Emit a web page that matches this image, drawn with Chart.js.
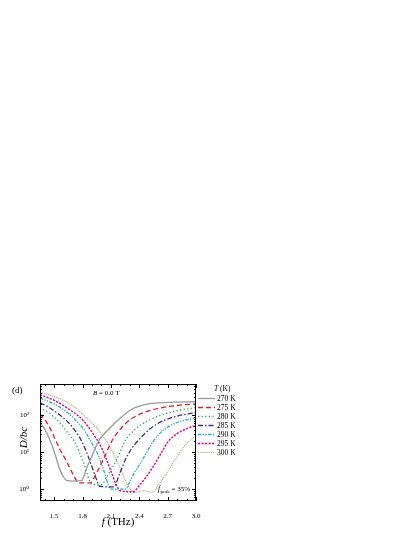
<!DOCTYPE html>
<html>
<head>
<meta charset="utf-8">
<script src="https://cdn.jsdelivr.net/npm/chart.js@4.4.0/dist/chart.umd.min.js"></script>
<style>
html,body{margin:0;padding:0;background:#fff;}
canvas{display:block;}
</style>
</head>
<body>
<canvas id="c" width="415" height="537"></canvas>
<script>
// ---- data ----
const seriesLabels = ['270 K','275 K','280 K','285 K','290 K','295 K','300 K'];
const xTickValues = [1.5, 1.8, 2.1, 2.4, 2.7, 3.0];
const yTickValues = [1, 10, 100];
const yTickLabels = ['10\u2070', '10\u00B9', '10\u00B2'];

const f270 = [1.35,1.40,1.456,1.50,1.56,1.60,1.63,1.70,1.79,1.84,1.90,1.97,2.05,2.10,2.20,2.33,2.50,2.70,3.00];
const d270 = [63,41.7,20.9,10.5,3.4,2.1,1.74,1.66,1.70,3.55,7.94,20.0,35.5,47.9,83.2,148,200,219,229];

const f275 = [1.35,1.40,1.45,1.51,1.56,1.62,1.67,1.72,1.76,1.88,1.95,2.02,2.11,2.21,2.30,2.44,2.60,2.80,3.00];
const d275 = [107,75.9,47.9,22.4,12.0,6.31,3.55,2.0,1.48,1.48,2.82,6.31,20.0,44.7,74.1,115,151,182,200];

const f280 = [1.35,1.45,1.55,1.65,1.71,1.77,1.82,1.87,1.90,2.00,2.05,2.10,2.16,2.25,2.35,2.44,2.60,2.80,3.00];
const d280 = [158,112,66.1,31.6,20.0,9.55,4.47,1.78,1.35,1.32,2.0,3.31,6.31,20.0,39.8,58.9,93.3,132,158];

const f285 = [1.35,1.45,1.55,1.65,1.72,1.79,1.85,1.90,1.95,1.98,2.13,2.19,2.25,2.32,2.39,2.50,2.60,2.80,3.00];
const d285 = [214,158,105,63.1,38.0,20.0,8.91,3.98,1.78,1.20,1.15,2.51,6.03,12.6,20.9,39.8,60.3,93.3,117];

const f290 = [1.35,1.50,1.65,1.75,1.83,1.88,1.95,2.00,2.05,2.08,2.12,2.25,2.30,2.35,2.41,2.48,2.55,2.65,2.80,3.00];
const d290 = [288,200,112,63.1,35.5,20.9,10.0,4.9,2.0,1.12,1.0,1.0,1.58,2.82,4.9,10.0,20.0,38.0,63.1,85.1];

const f295 = [1.35,1.50,1.65,1.77,1.85,1.91,1.985,2.05,2.11,2.16,2.20,2.34,2.40,2.47,2.55,2.63,2.71,2.80,2.90,3.00];
const d295 = [355,251,148,89.1,52.5,31.6,15.8,6.61,2.63,1.26,0.91,0.85,1.26,2.09,4.17,9.33,20.0,31.6,42.7,52.5];

const f300 = [1.35,1.50,1.63,1.75,1.85,1.95,2.00,2.06,2.14,2.20,2.25,2.30,2.355,2.40,2.44,2.48,2.53,2.57,2.60,2.67,2.73,2.80,2.87,2.93,3.00];
const d300 = [417,316,224,141,79.4,44.7,30.2,18.6,7.59,3.55,1.78,1.05,0.79,0.85,0.93,0.87,0.83,0.95,1.26,2.24,3.98,7.59,13.8,20.0,28.2];

// ---- styles ----
const serif = "'Liberation Serif','DejaVu Serif',serif";
const colors = ['#9a9a9a','#ed1c24','#1fae6a','#2e3192','#29abe2','#ec008c','#c3a77a'];
const dashes = [[], [5,3], [1.2,2.4], [5,2,1.5,2], [3.5,1.3,1.3,1.3,1.3,1.3], [2.2,1.3], [1.2,0.9]];
const widths = [1.3,1.3,1.4,1.3,1.3,1.4,1.1];

const fs = [f270,f275,f280,f285,f290,f295,f300];
const ds = [d270,d275,d280,d285,d290,d295,d300];

const datasets = seriesLabels.map((lab, i) => ({
  label: lab,
  data: fs[i].map((x, j) => ({x: x, y: ds[i][j]})),
  borderColor: colors[i],
  borderDash: dashes[i],
  borderWidth: widths[i],
  pointRadius: 0,
  fill: false,
  cubicInterpolationMode: 'monotone'
}));

const decorPlugin = {
  id: 'decor',
  afterDraw(chart) {
    const ctx = chart.ctx;
    const a = chart.chartArea;
    const xs = chart.scales.x, ys = chart.scales.y;
    ctx.save();
    // frame
    ctx.strokeStyle = '#000';
    ctx.lineWidth = 1;
    ctx.setLineDash([]);
    ctx.strokeRect(a.left + 0.5, a.top + 0.5, a.right - a.left - 1, a.bottom - a.top - 1);
    // x ticks (inward, bottom and top)
    ctx.beginPath();
    for (let k = 14; k <= 30; k++) {
      const v = k / 10;
      const px = Math.round(xs.getPixelForValue(v)) + 0.5;
      const major = xTickValues.some(t => Math.abs(t - v) < 1e-6);
      const L = major ? 4 : 2;
      ctx.moveTo(px, a.bottom); ctx.lineTo(px, a.bottom - L);
      ctx.moveTo(px, a.top); ctx.lineTo(px, a.top + L);
    }
    // y ticks (log, inward, left and right)
    for (let e = -1; e <= 2; e++) {
      for (let m = 1; m <= 9; m++) {
        const v = m * Math.pow(10, e);
        if (v < ys.min || v > ys.max) continue;
        const py = Math.round(ys.getPixelForValue(v)) + 0.5;
        const L = m === 1 ? 4 : 2;
        ctx.moveTo(a.left, py); ctx.lineTo(a.left + L, py);
        ctx.moveTo(a.right, py); ctx.lineTo(a.right - L, py);
      }
    }
    ctx.stroke();

    ctx.fillStyle = '#000';
    ctx.textBaseline = 'alphabetic';
    // (d)
    ctx.font = '9px ' + serif;
    ctx.textAlign = 'left';
    ctx.fillText('(d)', 12, 393);
    // B = 0.0 T
    ctx.font = 'italic 7px ' + serif;
    let x0 = 93;
    ctx.fillText('B', x0, 395);
    x0 += ctx.measureText('B').width;
    ctx.font = '7px ' + serif;
    ctx.fillText(' = 0.0 T', x0, 395);
    // f_peak = 35%
    ctx.font = 'italic 7.5px ' + serif;
    x0 = 158;
    ctx.fillText('f', x0, 491);
    x0 += ctx.measureText('f').width + 0.3;
    ctx.font = '5px ' + serif;
    ctx.fillText('peak', x0, 493);
    x0 += ctx.measureText('peak').width;
    ctx.font = '7px ' + serif;
    ctx.fillText(' = 35%', x0, 491);
    // x title
    ctx.font = 'italic 11px ' + serif;
    const t1 = 'f', t2 = ' (THz)';
    const w1 = ctx.measureText(t1).width;
    ctx.font = '11px ' + serif;
    const w2 = ctx.measureText(t2).width;
    let tx = (a.left + a.right) / 2 - (w1 + w2) / 2;
    ctx.font = 'italic 11px ' + serif;
    ctx.fillText(t1, tx, 525);
    ctx.font = '11px ' + serif;
    ctx.fillText(t2, tx + w1, 525);
    // y title
    ctx.save();
    ctx.translate(27, (a.top + a.bottom) / 2 - 5);
    ctx.rotate(-Math.PI / 2);
    ctx.font = 'italic 11px ' + serif;
    ctx.textAlign = 'center';
    ctx.fillText('D/bc', 0, 0);
    ctx.restore();
    // legend
    ctx.textAlign = 'left';
    ctx.font = 'italic 7.5px ' + serif;
    let hx = 214;
    ctx.fillText('T', hx, 391);
    hx += ctx.measureText('T').width;
    ctx.font = '7.5px ' + serif;
    ctx.fillText(' (K)', hx, 391);
    chart.data.datasets.forEach((dset, i) => {
      const y = 398.5 + i * 9;
      ctx.beginPath();
      ctx.strokeStyle = dset.borderColor;
      ctx.lineWidth = dset.borderWidth;
      ctx.setLineDash(dset.borderDash);
      ctx.moveTo(198, y); ctx.lineTo(215, y);
      ctx.stroke();
      ctx.setLineDash([]);
      ctx.fillStyle = '#000';
      ctx.font = '7.5px ' + serif;
      ctx.fillText(dset.label, 217, y + 2.5);
    });
    ctx.restore();
  }
};

new Chart(document.getElementById('c'), {
  type: 'line',
  data: { datasets: datasets },
  options: {
    responsive: false,
    animation: false,
    layout: { padding: { top: 384, right: 219, left: 0, bottom: 0 } },
    plugins: { legend: { display: false }, tooltip: { enabled: false } },
    scales: {
      x: {
        type: 'linear', min: 1.35, max: 3.0,
        grid: { display: false }, border: { display: false },
        afterBuildTicks: s => { s.ticks = xTickValues.map(v => ({ value: v })); },
        afterFit: s => { s.height = 36; },
        ticks: { color: '#000', font: { family: serif, size: 7 }, padding: 3, maxRotation: 0, autoSkip: false,
                 callback: v => Number(v).toFixed(1) }
      },
      y: {
        type: 'logarithmic', min: 0.48, max: 690,
        grid: { display: false }, border: { display: false },
        afterBuildTicks: s => { s.ticks = yTickValues.map(v => ({ value: v })); },
        afterFit: s => { s.width = 40; },
        ticks: { color: '#000', font: { family: serif, size: 7 }, padding: 3, autoSkip: false,
                 callback: v => { const i = yTickValues.indexOf(Number(v)); return i >= 0 ? yTickLabels[i] : ''; } }
      }
    }
  },
  plugins: [decorPlugin]
});
</script>
</body>
</html>
